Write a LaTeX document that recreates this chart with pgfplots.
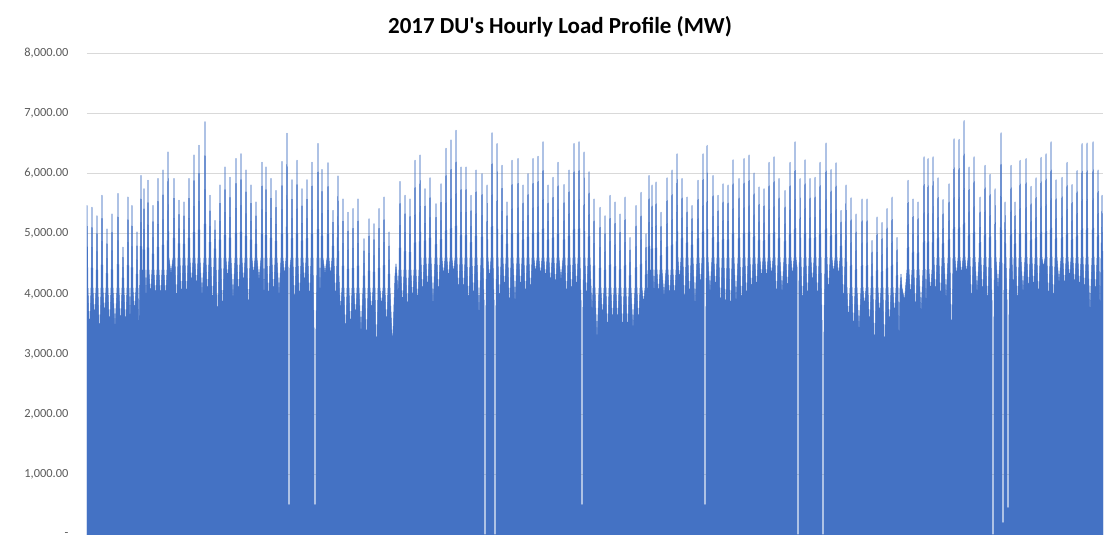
\documentclass[border=0pt]{standalone}
\usepackage{fontspec}
\setmainfont{Carlito}
\usepackage{pgfplots}
\pgfplotsset{compat=1.18}
\definecolor{xlblue}{RGB}{68,114,196}
\definecolor{gridgray}{RGB}{217,217,217}
\definecolor{labgray}{RGB}{89,89,89}

\begin{document}
\begin{tikzpicture}
\useasboundingbox (-43.5pt,-7.5pt) rectangle (516.5pt,267.5pt);
\begin{axis}[
  scale only axis,
  width=508pt, height=241pt,
  xmin=0, xmax=1016,
  ymin=0, ymax=8000,
  xtick=\empty,
  ytick={0,1000,2000,3000,4000,5000,6000,7000,8000},
  yticklabels={{-\hspace{5pt}},{1,000.00},{2,000.00},{3,000.00},{4,000.00},{5,000.00},{6,000.00},{7,000.00},{8,000.00}},
  yticklabel style={font=\fontsize{6.2}{7.5}\selectfont, text=labgray, xshift=-5.8pt},
  major tick length=0pt,
  axis line style={draw=none},
  ymajorgrids=true,
  grid style={gridgray, line width=0.5pt},
]
% hourly load, x = position along the year (plot-width units)
\addplot[fill=xlblue, draw=xlblue, line width=0.25pt, line join=round] coordinates {
(0,5470) (1,4100) (2.5,3330)
(4,4100) (5,5440) (6,4100) (7.5,3560)
(9,4100) (10,5300) (11,4100) (12.5,3220)
(14,4100) (15,5640) (16,4100) (17.5,3610)
(19,4100) (20,5080) (21,4100) (22.5,3390)
(24,4100) (25,5330) (26,4100) (28,3420)
(30,4100) (31,5670) (32,4100) (33.5,3420)
(35,4100) (36,4780) (37,4100) (38.5,3390)
(40,4100) (41,5610) (42,4100) (43,3530)
(44,4100) (45,5470) (46,4100) (47.5,3670)
(49,4100) (50,5030) (51,4100) (52,3390)
(53,4400) (54,5970) (55,4400) (55.5,3890)
(56,4400) (57,5750) (58,4400) (59,3890)
(60,4400) (61,5890) (62,4400) (63.5,3940)
(65,4400) (66,5470) (67,4400) (68.5,3890)
(70,4400) (71,5920) (72,4400) (73.5,3890)
(75,4400) (76,6060) (77,4400) (78.5,3890)
(80,4400) (81,6360) (82,4600) (84,4330)
(86,4600) (87,5920) (88,4600) (89.5,3720)
(91,4600) (92,5560) (93,4600) (94.5,3830)
(96,4600) (97,5530) (98,4600) (99.5,3830)
(101,4600) (102,5920) (103,4600) (104.5,4110)
(106,4600) (107,6310) (108,4600) (109.5,4030)
(111,4600) (112,6470) (113,4600) (115,3940)
(117,4600) (118,6860) (119,4600) (120.5,3890)
(122,4600) (123,5640) (124,4600) (125.5,3670)
(127,4600) (128,5220) (129,4600) (130.5,3390)
(132,4600) (133,5810) (134,4600) (135.5,3530)
(137,4600) (138,6110) (139,4600) (140.5,4220)
(142,4600) (143,5940) (144,4600) (146,3890)
(148,4600) (149,6250) (150,4600) (151.5,3890)
(153,4600) (154,6330) (155,4600) (156.5,4110)
(158,4600) (159,6060) (160,4600) (161.5,3560)
(163,4600) (164,5810) (165,4600) (166.5,4300)
(168,4600) (169,5530) (170,4600) (172,4220)
(174,4600) (175,6190) (176,4600) (177,3890)
(178,4600) (179,6110) (180,4600) (181.5,3780)
(183,4600) (184,5920) (185,4600) (186.5,3890)
(188,4600) (189,5720) (190,4600) (192,3940)
(194,4600) (195,6200) (196,4600) (197.5,4280)
(199,4600) (200,6670) (201,4450) (201.1,500) (202.9,500) (203,4450)
(204,4600) (205,5900) (206,4600) (207.5,3690)
(209,4600) (210,6220) (211,4600) (212.5,3780)
(214,4600) (215,5750) (216,4600) (217.5,4110)
(219,4600) (220,5900) (221,4600) (222.5,3780)
(224,4600) (225,6190) (226,4600) (227,3440) (227.1,500) (228.9,500) (229,3440)
(230,4600) (231,6500) (232,4600) (233,3940)
(234,4600) (235,6070) (236,4600) (238,4330)
(240,4600) (241,6180) (242,4600) (243.5,4280)
(245,4600) (246,5390) (247,4600) (248.5,3780)
(250,4600) (251,5960) (252,4300) (253.5,3670)
(255,4100) (256,5580) (257,4100) (258.5,3220)
(260,4100) (261,5360) (262,4100) (263.5,3330)
(265,4100) (266,5420) (267,4100) (268.5,3560)
(270,4100) (271,5580) (272,4100) (274,3330)
(276,4100) (277,4920) (278,4100) (279.5,3060)
(281,4100) (282,5250) (283,4100) (284.5,3670)
(286,4100) (287,5170) (288,4100) (289.5,2890)
(291,4100) (292,5420) (293,4100) (294.5,3780)
(296,4100) (297,5610) (298,4100) (299.5,3390)
(301,4100) (302,5030) (303,4100) (305.5,3110)
(308,4300) (309,4500) (310,4300) (311,4000)
(312,4400) (313,5870) (314,4400) (315.5,3720)
(317,4400) (318,5640) (319,4400) (320.5,3610)
(322,4400) (323,5580) (324,4400) (325.5,3830)
(327,4400) (328,6220) (329,4400) (330.5,3780)
(332,4400) (333,6310) (334,4600) (335.5,3890)
(337,4600) (338,5750) (339,4600) (340.5,4000)
(342,4600) (343,5930) (344,4600) (346,3780)
(348,4600) (349,5500) (350,4600) (351.5,3890)
(353,4600) (354,5830) (355,4600) (356.5,4280)
(358,4600) (359,6420) (360,4600) (361.5,4220)
(363,4600) (364,6560) (365,4600) (366.5,4330)
(368,4600) (369,6720) (370,4600) (371.5,3940)
(373,4600) (374,6110) (375,4600) (376.5,3940)
(378,4600) (379,6110) (380,4600) (381.5,3670)
(383,4600) (384,5640) (385,4600) (386.5,3780)
(388,4600) (389,6060) (390,4600) (392,3610)
(394,4600) (395,6000) (396,4600) (397,3900) (397.1,0) (398.9,0) (399,3900)
(399.5,4600) (400,5810) (401,4600) (402.5,4220)
(404,4600) (405,6680) (406,4600) (407,3900) (407.1,0) (408.9,0) (409,3900)
(409.5,4600) (410,6500) (411,4600) (412.5,3720)
(414,4600) (415,6140) (416,4600) (417.5,4000)
(419,4600) (420,5530) (421,4600) (422.5,3610)
(424,4600) (425,6220) (426,4600) (428,3830)
(430,4600) (431,6250) (432,4600) (433.5,4000)
(435,4600) (436,5810) (437,4600) (438.5,3830)
(440,4600) (441,6000) (442,4600) (443.5,3940)
(445,4600) (446,6250) (447,4600) (448.5,4330)
(450,4600) (451,6290) (452,4600) (453.5,4280)
(455,4600) (456,6530) (457,4600) (458.5,4220)
(460,4600) (461,5810) (462,4600) (463.5,4110)
(465,4600) (466,5940) (467,4600) (468.5,4060)
(470,4600) (471,6190) (472,4600) (474,4220)
(476,4600) (477,5820) (478,4600) (479.5,3830)
(481,4600) (482,6060) (483,4600) (484.5,3890)
(486,4600) (487,6500) (488,4600) (489.5,4000)
(491,4600) (492,6530) (493,4600) (494,3890) (494.1,500) (495.9,500) (496,3890)
(496.5,4600) (497,6360) (498,4600) (499.5,3780)
(501,4600) (502,6030) (503,4600) (505,3670)
(506,4100) (507,5580) (508,4100) (510,3220)
(512,4100) (513,5440) (514,4100) (515.5,3560)
(517,4100) (518,5300) (519,4100) (520.5,3250)
(522,4100) (523,5640) (524,4100) (525.5,3440)
(527,4100) (528,5530) (529,4100) (530.5,3440)
(532,4100) (533,5330) (534,4100) (535.5,3250)
(537,4100) (538,5610) (539,4100) (540.5,3250)
(542,4100) (543,4940) (544,4100) (546,3390)
(548,4100) (549,5470) (550,4100) (551.5,3440)
(553,4100) (554,5690) (555,4100) (556.5,3830)
(558,4100) (559,5000) (560,4100) (560.5,3390)
(561,4400) (562,5970) (563,4400) (563.5,3900)
(564,4400) (565,5810) (566,4400) (567,4000)
(568,4400) (569,5860) (570,4400) (571.5,3940)
(573,4400) (574,5360) (575,4400) (577,3940)
(579,4400) (580,5930) (581,4400) (582.5,3890)
(584,4400) (585,6060) (586,4400) (587.5,3890)
(589,4400) (590,6330) (591,4600) (592.5,4190)
(594,4600) (595,5920) (596,4600) (597.5,3690)
(599,4600) (600,5610) (601,4600) (602.5,3830)
(604,4600) (605,5470) (606,4600) (608,3780)
(610,4600) (611,5890) (612,4600) (613.5,4060)
(615,4600) (616,6330) (617,4600) (617.1,3940) (617.2,500) (618.9,500) (619,3940)
(619.5,4600) (620,6470) (621,4600) (623,4000)
(625,4600) (626,5970) (627,4600) (628.5,4000)
(630,4600) (631,5640) (632,4600) (633.5,3610)
(635,4600) (636,5830) (637,4600) (638.5,3560)
(640,4600) (641,5810) (642,4600) (643.5,3530)
(645,4600) (646,6230) (647,4600) (649,3830)
(651,4600) (652,5920) (653,4600) (654.5,3670)
(656,4600) (657,6250) (658,4600) (659.5,3780)
(661,4600) (662,6310) (663,4600) (664.5,3940)
(666,4600) (667,6010) (668,4600) (669.5,4000)
(671,4600) (672,5780) (673,4600) (674.5,4220)
(676,4600) (677,5750) (678,4600) (679.5,4220)
(681,4600) (682,6190) (683,4600) (684.5,4280)
(686,4600) (687,6280) (688,4600) (689.5,3830)
(691,4600) (692,5920) (693,4600) (695,4000)
(697,4600) (698,5720) (699,4600) (700.5,3970)
(702,4600) (703,6190) (704,4600) (705.5,4280)
(707,4600) (708,6530) (709,4600) (710,4450) (710.1,0) (711.9,0) (712,4450)
(712.5,4600) (713,5920) (714,4600) (715.5,3670)
(717,4600) (718,6230) (719,4600) (720.5,3780)
(722,4600) (723,5920) (724,4600) (725.5,4110)
(727,4600) (728,5940) (729,4600) (730.5,3780)
(732,4600) (733,6190) (734,4600) (735,3560) (735.1,0) (736.9,0) (737,3560)
(738,4600) (739,6510) (740,4600) (741.5,3940)
(743,4600) (744,6070) (745,4600) (746.5,4330)
(748,4600) (749,6180) (750,4600) (751.5,4280)
(753,4600) (754,5390) (755,4600) (756.5,3720)
(758,4600) (759,5810) (760,4100) (761.5,3500)
(763,4100) (764,5600) (765,4100) (766.5,3280)
(768,4100) (769,5330) (770,4100) (772,3360)
(774,4100) (775,5580) (776,4100) (777.5,3780)
(779,4100) (780,5580) (781,4100) (782.5,3390)
(784,4100) (785,4890) (786,4100) (787.5,2940)
(789,4100) (790,5280) (791,4100) (792.5,3610)
(794,4100) (795,5190) (796,4100) (797.5,2890)
(799,4100) (800,5420) (801,4100) (802.5,3390)
(804,4100) (805,5610) (806,4100) (807.5,3610)
(809,4100) (810,4940) (811,4100) (812,3170)
(813,4100) (814,4330) (815,4100) (817.5,3890)
(820,4400) (821,5890) (822,4400) (823.5,3920)
(825,4400) (826,5580) (827,4400) (828.5,3610)
(830,4400) (831,5530) (832,4400) (834,3670)
(836,4400) (837,6280) (838,4400) (839,3780)
(840,4400) (841,6250) (842,4400) (843.5,4000)
(845,4400) (846,6280) (847,4600) (848.5,3890)
(850,4600) (851,5930) (852,4600) (853.5,3780)
(855,4600) (856,5570) (857,4600) (859,3890)
(861,4600) (862,5830) (863,4600) (864.5,3060)
(866,4600) (867,6580) (868,4600) (869.5,4280)
(871,4600) (872,6570) (873,4600) (874.5,4300)
(876,4600) (877,6880) (878,4600) (879.5,4330)
(881,4600) (882,6110) (883,4600) (884.5,3720)
(886,4600) (887,6280) (888,4600) (890,4000)
(892,4600) (893,5610) (894,4600) (895.5,3890)
(897,4600) (898,6140) (899,4600) (900.5,3670)
(902,4600) (903,5990) (904,4600) (905,3890) (905.1,0) (906.9,0) (907,3890)
(907.5,4600) (908,5750) (909,4600) (911,4060)
(913,4600) (914,6680) (915,4500) (915.1,3900) (915.2,200) (916.8,200) (916.9,3900)
(917.3,4600) (918,5530) (919,4600) (920,3900) (920.1,450) (921.9,450) (922,3900)
(923,4600) (924,6140) (925,4600) (926.5,3890)
(927,4600) (928,5530) (929,4600) (930.5,3670)
(932,4600) (933,6220) (934,4600) (936,4000)
(938,4600) (939,6250) (940,4600) (941.5,3970)
(943,4600) (944,5790) (945,4600) (946.5,4000)
(948,4600) (949,5930) (950,4600) (951.5,3830)
(953,4600) (954,6270) (955,4600) (956.5,4440)
(958,4600) (959,6330) (960,4600) (961.5,3780)
(963,4600) (964,6530) (965,4600) (966.5,3720)
(968,4600) (969,5900) (970,4600) (972,4170)
(974,4600) (975,5940) (976,4600) (977.5,4030)
(979,4600) (980,6190) (981,4600) (982.5,4220)
(984,4600) (985,5820) (986,4600) (987.5,4060)
(989,4600) (990,6050) (991,4600) (992.5,4000)
(994,4600) (995,6500) (996,4600) (997.5,3940)
(999,4600) (1000,6510) (1001,4600) (1003,3670)
(1005,4600) (1006,6530) (1007,4600) (1008.5,3890)
(1010,4600) (1011,6060) (1012,4600) (1013,3670)
(1014,4600) (1015,5640) (1016,4390)
} \closedcycle;
\end{axis}
\node[font=\fontsize{11.5}{14}\selectfont\bfseries, text=black] at (236.5pt,254pt) {2017 DU\textquotesingle s Hourly Load Profile (MW)};
\end{tikzpicture}
\end{document}
